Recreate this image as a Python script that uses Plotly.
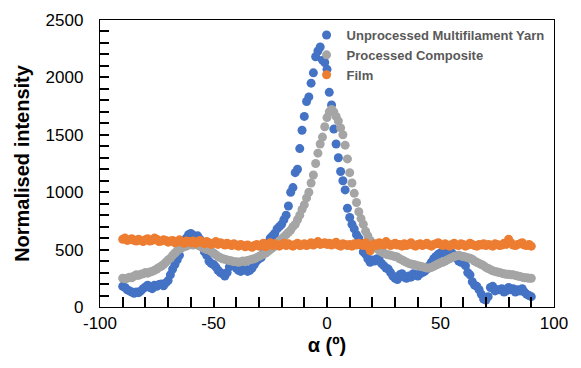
import plotly.graph_objects as go

angles = list(range(-90, 91))

unprocessed = [
    180, 170, 150, 140, 130, 120, 130, 125, 140, 160,
    175, 190, 170, 160, 190, 180, 195, 200, 185, 210,
    230, 280, 330, 370, 410, 450, 520, 560, 600, 630,
    640, 625, 610, 620, 590, 530, 480, 450, 400, 380,
    370, 350, 320, 300, 290, 270, 300, 350, 380, 370,
    340, 320, 310, 340, 330, 310, 320, 340, 370, 400,
    420, 430, 470, 520, 560, 600, 620, 640, 680, 700,
    720, 760, 800, 880, 1000, 1040, 1170, 1200, 1380, 1540,
    1660, 1790, 1830, 1950, 2040, 2180, 2230, 2265, 2150, 2130,
    2070, 1870, 1760, 1550, 1420, 1300, 1180, 1100, 1020, 860,
    780, 720, 680, 630, 600, 540, 480, 460, 420, 390,
    410, 400, 420, 410, 380, 360, 340, 330, 300, 270,
    250, 240, 280, 290, 260, 250, 270, 260, 290, 280,
    270, 290, 300, 310, 330, 360, 390, 420, 440, 460,
    470, 480, 460, 470, 480, 470, 450, 430, 400, 390,
    390, 360, 300, 280, 220, 190, 180, 150, 110, 70,
    60, 90, 170, 180, 140, 150, 150, 160, 130, 140,
    170, 150, 160, 130, 150, 140, 160, 130, 110, 100,
    90,
]

processed = [
    250, 245, 250, 260, 255, 270, 280, 275, 285, 290,
    300, 295, 305, 310, 320, 330, 345, 355, 370, 390,
    410, 425, 450, 470, 490, 505, 515, 525, 530, 540,
    545, 540, 545, 540, 530, 520, 510, 500, 495, 485,
    470, 455, 440, 430, 420, 415, 410, 405, 400, 395,
    395, 390, 395, 400, 395, 405, 410, 415, 420, 430,
    440, 450, 460, 470, 485, 500, 515, 530, 550, 570,
    590, 610, 630, 650, 670, 700, 720, 760, 800, 850,
    890, 950, 1000, 1080, 1150, 1250, 1340, 1420, 1480, 1570,
    1650, 1700, 1720, 1700, 1660, 1620, 1560, 1500, 1410, 1290,
    1170, 1080, 990, 910, 830, 770, 720, 660, 620, 580,
    550, 530, 510, 495, 480, 470, 460, 455, 450, 445,
    440, 435, 420, 410, 400, 390, 380, 375, 370, 365,
    360, 355, 350, 345, 340, 340, 345, 355, 365, 375,
    385, 390, 400, 410, 420, 430, 440, 445, 450, 445,
    440, 435, 430, 425, 415, 400, 390, 380, 370, 360,
    345, 335, 325, 315, 310, 305, 300, 295, 290, 285,
    285, 280, 280, 275, 270, 265, 260, 255, 255, 250,
    250,
]

film = [
    590, 600, 580, 585, 595, 580, 575, 590, 580, 570,
    585, 595, 575, 580, 600, 590, 570, 575, 585, 580,
    565, 575, 580, 560, 570, 585, 565, 555, 575, 570,
    560, 575, 555, 565, 580, 560, 550, 570, 560, 545,
    555, 570, 545, 560, 550, 540, 555, 545, 535, 550,
    540, 530, 545, 535, 525, 540, 530, 520, 535, 545,
    530, 540, 555, 525, 545, 560, 535, 550, 540, 530,
    545, 555, 535, 550, 540, 530, 545, 555, 535, 540,
    550, 535, 545, 560, 540, 555, 570, 545, 550, 560,
    545, 555, 540, 550, 565, 540, 530, 550, 545, 535,
    545, 530, 550, 540, 555, 545, 535, 560, 530, 490,
    540, 550, 535, 560, 545, 540, 570, 550, 535, 545,
    555, 540, 545, 530, 550, 535, 545, 560, 540, 530,
    545, 550, 535, 545, 555, 540, 530, 545, 550, 560,
    545, 535, 550, 540, 530, 545, 555, 540, 535, 550,
    545, 530, 540, 555, 545, 535, 530, 545, 540, 550,
    535, 545, 540, 530, 550, 545, 535, 540, 555, 545,
    590, 560, 540, 535, 545, 550, 560, 540, 535, 545,
    530,
]

series_names = ["Unprocessed Multifilament Yarn", "Processed Composite", "Film"]
series_colors = ["#4472C4", "#A5A5A5", "#ED7D31"]

x_tick_pos = list(range(-100, 101, 10))
x_labelled = [-100, -50, 0, 50, 100]
y_tick_pos = list(range(0, 2501, 100))
y_labelled = [0, 500, 1000, 1500, 2000, 2500]

fig = go.Figure()
for name, vals, col in zip(series_names, [unprocessed, processed, film], series_colors):
    fig.add_trace(go.Scatter(
        x=angles, y=vals, mode="markers", name=name,
        marker=dict(color=col, size=9, line=dict(width=0)),
    ))

axis_common = dict(
    showgrid=False, zeroline=False, showline=True, linecolor="#000000",
    linewidth=1.3, mirror=True, ticks="inside", tickwidth=1.5,
    tickcolor="#000000", automargin=False, tickmode="array",
    tickfont=dict(family="Liberation Sans, Arial", size=17, color="#000000"),
)

fig.update_layout(
    width=581, height=368,
    margin=dict(l=100, r=27, t=20, b=61),
    paper_bgcolor="white", plot_bgcolor="white",
    font=dict(family="Liberation Sans, Arial"),
    xaxis=dict(
        range=[-100, 100], tickvals=x_tick_pos,
        ticktext=[str(v) if v in x_labelled else "" for v in x_tick_pos],
        ticklen=10,
        title=dict(text="<b>α (º)</b>", font=dict(size=20, color="#000000"), standoff=6),
        **axis_common,
    ),
    yaxis=dict(
        range=[0, 2500], tickvals=y_tick_pos,
        ticktext=[str(v) if v in y_labelled else "" for v in y_tick_pos],
        ticklen=9, ticklabelstandoff=12,
        title=dict(text="<b>Normalised intensity</b>", font=dict(size=20, color="#000000"), standoff=10),
        **axis_common,
    ),
    legend=dict(
        x=0.455, y=1.0, xanchor="left", yanchor="top",
        bgcolor="rgba(0,0,0,0)", borderwidth=0,
        font=dict(size=13, color="#595959", family="Liberation Sans, Arial", weight="bold"),
        itemwidth=30, tracegroupgap=0,
    ),
    showlegend=True,
)

fig.write_html("out.html")
